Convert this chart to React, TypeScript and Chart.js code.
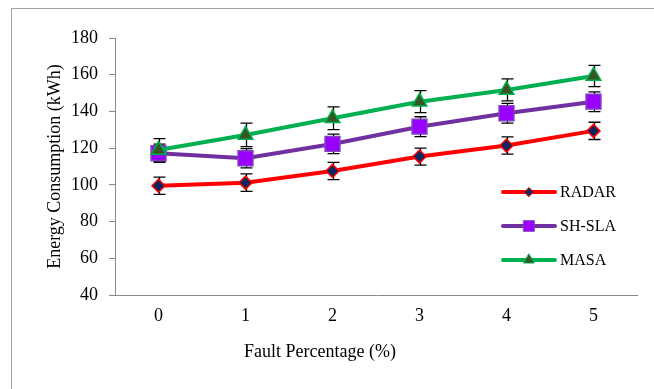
import React, { useEffect, useRef } from "react";
import { Chart, registerables } from "chart.js";
Chart.register(...registerables);

const categories = ["0", "1", "2", "3", "4", "5"];
const radarValues = [99.5, 101.2, 107.6, 115.4, 121.4, 129.4];
const shslaValues = [117.2, 114.5, 122.3, 131.7, 139.0, 145.3];
const masaValues = [119.0, 127.2, 136.3, 145.3, 151.7, 159.3];
const radarErrors = [4.7, 4.8, 4.7, 4.6, 4.7, 4.7];
const shslaErrors = [5.0, 5.2, 5.3, 5.4, 5.4, 5.4];
const masaErrors = [6.2, 6.4, 6.2, 6.0, 6.0, 5.8];
const seriesNames = ["RADAR", "SH-SLA", "MASA"];
const yMin = 40;
const yMax = 180;
const yStep = 20;
const xTitle = "Fault Percentage (%)";
const yTitle = "Energy Consumption (kWh)";

const FONT = "'Liberation Serif', 'Times New Roman', serif";

const styles = [
  { line: "#ff0000", fill: "#0d2560", border: "#ff0000", shape: "rectRot", r: 6.5, lr: 4.5 },
  { line: "#7030a0", fill: "#9900ff", border: "#8040c0", shape: "rect", r: 10.5, lr: 7.5 },
  { line: "#00b050", fill: "#375623", border: "#00b050", shape: "triangle", r: 8.5, lr: 6 },
];

const errorsBySeries = [radarErrors, shslaErrors, masaErrors];

export default function App() {
  const ref = useRef<HTMLCanvasElement | null>(null);
  useEffect(() => {
    if (!ref.current) return;
    const errorBars = {
      id: "errorBars",
      beforeDatasetsDraw(chart: any) {
        const ctx = chart.ctx;
        const ys = chart.scales.y;
        ctx.save();
        ctx.strokeStyle = "#000";
        ctx.lineWidth = 1.3;
        chart.data.datasets.forEach((ds: any, i: number) => {
          const meta = chart.getDatasetMeta(i);
          const errs = errorsBySeries[i];
          meta.data.forEach((pt: any, j: number) => {
            const v = ds.data[j];
            const e = errs[j];
            const x = Math.round(pt.x) + 0.5;
            const yt = ys.getPixelForValue(v + e);
            const yb = ys.getPixelForValue(v - e);
            ctx.beginPath();
            ctx.moveTo(x, yt);
            ctx.lineTo(x, yb);
            ctx.moveTo(x - 6, yt);
            ctx.lineTo(x + 6, yt);
            ctx.moveTo(x - 6, yb);
            ctx.lineTo(x + 6, yb);
            ctx.stroke();
          });
        });
        ctx.restore();
      },
    };
    const decor = {
      id: "decor",
      afterDraw(chart: any) {
        const ctx = chart.ctx;
        const ca = chart.chartArea;
        ctx.save();
        // outer frame
        ctx.strokeStyle = "#a0a0a0";
        ctx.lineWidth = 1;
        ctx.beginPath();
        ctx.moveTo(11.5, 400);
        ctx.lineTo(11.5, 8.5);
        ctx.lineTo(660, 8.5);
        ctx.stroke();
        // axis titles
        ctx.fillStyle = "#000";
        ctx.font = `18px ${FONT}`;
        ctx.textAlign = "center";
        ctx.textBaseline = "middle";
        ctx.fillText(xTitle, 320, 352);
        ctx.save();
        ctx.translate(55, (ca.top + ca.bottom) / 2);
        ctx.rotate(-Math.PI / 2);
        ctx.fillText(yTitle, 0, 0);
        ctx.restore();
        // legend
        const legendY = [192, 226, 260];
        ctx.font = `16px ${FONT}`;
        ctx.textAlign = "left";
        seriesNames.forEach((name, i) => {
          const st = styles[i];
          const y = legendY[i];
          ctx.strokeStyle = st.line;
          ctx.lineWidth = 4;
          ctx.lineCap = "round";
          ctx.beginPath();
          ctx.moveTo(503, y);
          ctx.lineTo(555, y);
          ctx.stroke();
          ctx.fillStyle = st.fill;
          ctx.strokeStyle = st.border;
          ctx.lineWidth = 1;
          (Chart as any).helpers?.drawPoint;
          drawMarker(ctx, st.shape, 529, y, st.lr, st.fill, st.border);
          ctx.fillStyle = "#000";
          ctx.fillText(name, 560, y + 1);
        });
        ctx.restore();
      },
    };
    function drawMarker(ctx: CanvasRenderingContext2D, shape: string, x: number, y: number, r: number, fill: string, border: string) {
      ctx.save();
      ctx.fillStyle = fill;
      ctx.strokeStyle = border;
      ctx.lineWidth = 1;
      ctx.beginPath();
      if (shape === "rectRot") {
        ctx.moveTo(x - r, y);
        ctx.lineTo(x, y - r);
        ctx.lineTo(x + r, y);
        ctx.lineTo(x, y + r);
      } else if (shape === "rect") {
        const s = r * Math.SQRT1_2;
        ctx.rect(x - s, y - s, 2 * s, 2 * s);
      } else {
        ctx.moveTo(x, y - r);
        ctx.lineTo(x + r * 0.866, y + r * 0.5);
        ctx.lineTo(x - r * 0.866, y + r * 0.5);
      }
      ctx.closePath();
      ctx.fill();
      ctx.stroke();
      ctx.restore();
    }

    const allValues = [radarValues, shslaValues, masaValues];
    const chart = new Chart(ref.current, {
      type: "line",
      data: {
        labels: categories,
        datasets: allValues.map((vals, i) => ({
          label: seriesNames[i],
          data: vals,
          borderColor: styles[i].line,
          borderWidth: 4,
          backgroundColor: styles[i].fill,
          pointBackgroundColor: styles[i].fill,
          pointBorderColor: styles[i].border,
          pointBorderWidth: 1.5,
          pointStyle: styles[i].shape as any,
          pointRadius: styles[i].r,
          pointHoverRadius: styles[i].r,
          tension: 0,
          fill: false,
          order: 2 - i,
        })),
      },
      options: {
        animation: false,
        responsive: false,
        layout: { padding: { left: 0, top: 38, right: 17, bottom: 54 } },
        plugins: { legend: { display: false }, tooltip: { enabled: false } },
        scales: {
          x: {
            offset: true,
            grid: { display: false, drawTicks: false },
            border: { display: true, color: "#888", width: 1 },
            ticks: { color: "#000", font: { family: FONT, size: 18 }, padding: 10 },
            afterFit: (s: any) => { s.height = 40; },
          },
          y: {
            min: yMin,
            max: yMax,
            grid: { drawOnChartArea: false, drawTicks: true, tickLength: 6, color: "#888" },
            border: { display: true, color: "#888", width: 1 },
            ticks: { stepSize: yStep, color: "#000", font: { family: FONT, size: 18 }, padding: 11 },
            afterFit: (s: any) => { s.width = 115; },
          },
        },
      },
      plugins: [errorBars, decor],
    });
    return () => chart.destroy();
  }, []);
  return (
    <div style={{ position: "fixed", left: 0, top: 0, width: 654, height: 389, background: "#fff" }}>
      <canvas ref={ref} width={654} height={389} />
    </div>
  );
}
